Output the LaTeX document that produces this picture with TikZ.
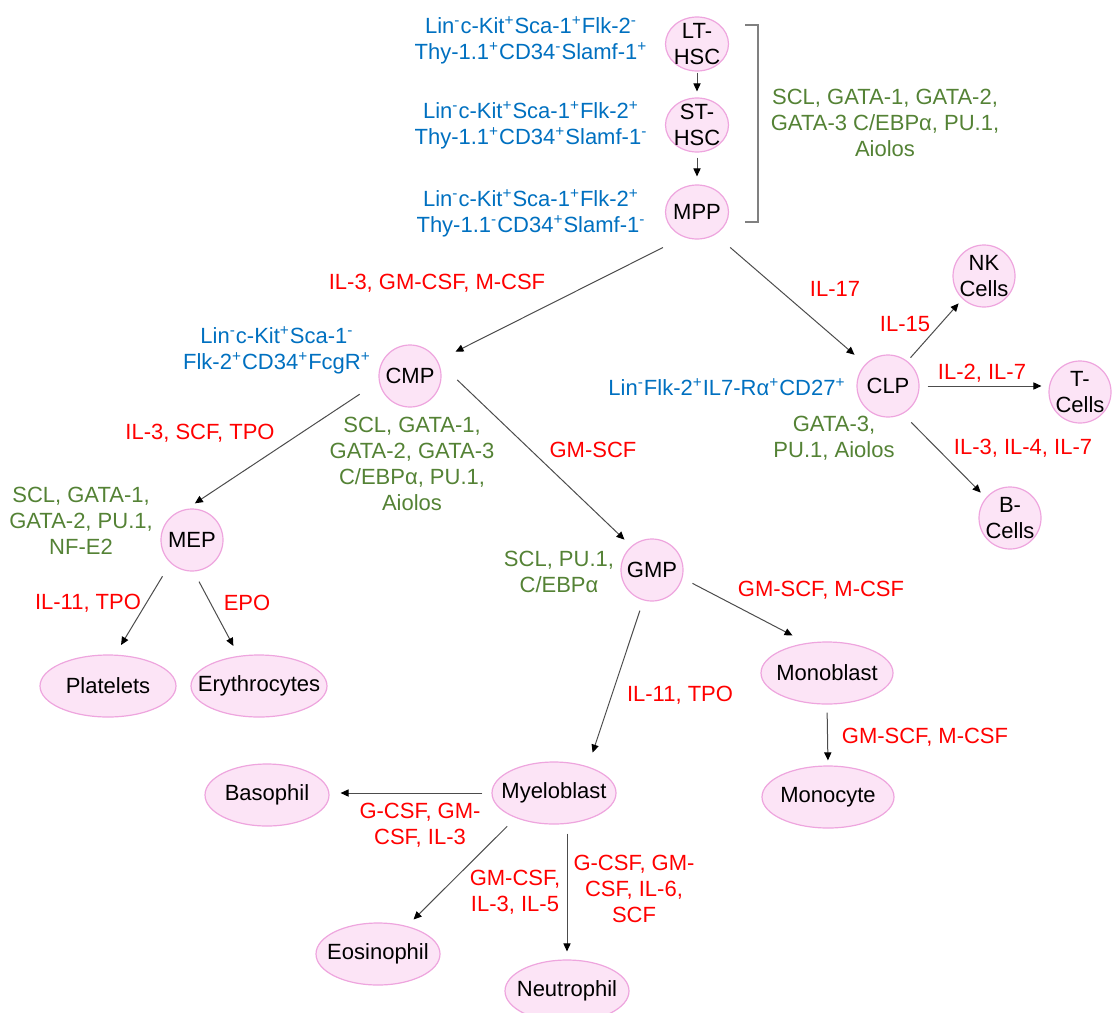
\documentclass[tikz,border=0pt]{standalone}
\usepackage{fontspec}
\setmainfont{Liberation Sans}
\usetikzlibrary{arrows.meta,shapes.geometric}

\definecolor{cellfill}{RGB}{252,228,246}
\definecolor{celledge}{RGB}{238,165,222}
\definecolor{markblue}{RGB}{0,112,192}
\definecolor{tfgreen}{RGB}{84,130,53}
\definecolor{cytored}{RGB}{255,0,0}

% surface marker signs
\newcommand{\mkp}{\textsuperscript{+}}
\newcommand{\mkn}{\textsuperscript{-}}

\begin{document}
\begin{tikzpicture}[
  x=0.5pt, y=-0.5pt,
  font=\fontsize{11}{13}\selectfont,
  >={Triangle[length=4pt,width=3.6pt,color=black]},
  cell/.style={circle, draw=celledge, fill=cellfill, line width=0.6pt,
               minimum size=31pt, inner sep=-2pt, align=center},
  stem/.style={ellipse, draw=celledge, fill=cellfill, line width=0.6pt,
               minimum width=31.5pt, minimum height=27pt, inner sep=-3pt,
               align=center},
  mature/.style={ellipse, draw=celledge, fill=cellfill, line width=0.6pt,
                 minimum width=62pt, minimum height=31pt, inner xsep=-7pt,
                 inner ysep=0pt},
  marker/.style={text=markblue, align=center},
  factor/.style={text=tfgreen, align=center},
  cyto/.style={text=cytored, align=center},
  link/.style={->, draw=black!70, line width=0.5pt},
  bracketline/.style={draw=black!50, line width=0.6pt}
]
\useasboundingbox (0,0) rectangle (1112,1012);

% stem and progenitor cells
\node[stem] (lthsc) at (697,44) {LT-\\HSC};
\node[stem] (sthsc) at (697,125) {ST-\\HSC};
\node[stem] (mpp) at (697,212) {MPP};
\node[cell] (cmp) at (410,376) {CMP};
\node[cell] (clp) at (888,386) {CLP};
\node[cell] (mep) at (192,540) {MEP};
\node[cell] (gmp) at (652,570) {GMP};

% lymphoid side
\node[cell] (nk) at (984,276) {NK\\Cells};
\node[cell] (tcells) at (1080,392) {T-\\Cells};
\node[cell] (bcells) at (1010,518) {B-\\Cells};

% myeloid side
\node[mature, minimum width=68pt] (platelets) at (108,686) {Platelets};
\node[mature, minimum width=68pt] (erythro) at (259,686) {Erythrocytes};
\node[mature, minimum width=66pt] (monoblast) at (827,673) {Monoblast};
\node[mature, minimum width=66pt] (monocyte) at (828,797) {Monocyte};
\node[mature] (myelo) at (554,793) {Myeloblast};
\node[mature] (basophil) at (267,795) {Basophil};
\node[mature] (eosin) at (378,954) {Eosinophil};
\node[mature] (neutro) at (567,991) {Neutrophil};

% lineage arrows
\draw[link, shorten <=0.5pt, shorten >=3pt] (lthsc) -- (sthsc);
\draw[link, shorten <=2.5pt, shorten >=4pt] (sthsc) -- (mpp);
\draw[link, shorten <=11.6pt, shorten >=10pt] (mpp.-118) -- (cmp.29);
\draw[link, shorten <=9.8pt, shorten >=7.1pt] (mpp.-51) -- (clp.136);
\draw[link, shorten <=2.3pt, shorten >=2.9pt] (clp.52) -- (nk.-133);
\draw[link, shorten <=4pt, shorten >=3.5pt] (clp.east) -- (clp.east -| tcells.west);
\draw[link, shorten <=6pt, shorten >=3.6pt] (clp.-62) -- (bcells.140);
\draw[link, shorten <=11.5pt, shorten >=5pt] (cmp.-170) -- (mep.100);
\draw[link, shorten <=13.2pt, shorten >=4.7pt] (cmp.27) -- (gmp.131);
\draw[link, shorten <=7.7pt, shorten >=5.6pt] (mep.-133) -- (platelets.77);
\draw[link, shorten <=5.7pt, shorten >=5.6pt] (mep.-87) -- (erythro.124);
\draw[link, shorten <=5.4pt, shorten >=7.3pt] (gmp.-106) -- (myelo.38);
\draw[link, shorten <=5.6pt, shorten >=8pt] (gmp.-15) -- (monoblast.124);
\draw[link, shorten <=4pt, shorten >=2.5pt] (monoblast.south) -- (monocyte.north);
\draw[link, shorten <=4.5pt, shorten >=5.5pt] (myelo.west) -- (myelo.west -| basophil.east);
\draw[link, shorten <=5.9pt, shorten >=4.6pt] (myelo.-147) -- (eosin.44);
\draw[link, shorten <=4.5pt, shorten >=4pt] (neutro |- myelo.south) -- (neutro.north);

% bracket over the stem compartment
\draw[bracketline] (745,25) -- (758,25) -- (758,222) -- (745,222);

% surface markers
\node[marker] (ltmark) at (531,40)
  {Lin\mkn c-Kit\mkp Sca-1\mkp Flk-2\mkn\\Thy-1.1\mkp CD34\mkn Slamf-1\mkp};
\node[marker] (stmark) at (531,125)
  {Lin\mkn c-Kit\mkp Sca-1\mkp Flk-2\mkp\\Thy-1.1\mkp CD34\mkp Slamf-1\mkn};
\node[marker] (mppmark) at (531,213)
  {Lin\mkn c-Kit\mkp Sca-1\mkp Flk-2\mkp\\Thy-1.1\mkn CD34\mkp Slamf-1\mkn};
\node[marker] (cmpmark) at (277,350)
  {Lin\mkn c-Kit\mkp Sca-1\mkn\\Flk-2\mkp CD34\mkp FcgR\mkp};
\node[marker] (clpmark) at (727,387) {Lin\mkn Flk-2\mkp IL7-Rα\mkp CD27\mkp};

% transcription factors
\node[factor] (stemtf) at (885,123)
  {SCL, GATA-1, GATA-2,\\GATA-3 C/EBPα, PU.1,\\Aiolos};
\node[factor] (cmptf) at (412,464)
  {SCL, GATA-1,\\GATA-2, GATA-3\\C/EBPα, PU.1,\\Aiolos};
\node[factor] (meptf) at (81,521) {SCL, GATA-1,\\GATA-2, PU.1,\\NF-E2};
\node[factor] (gmptf) at (559,572) {SCL, PU.1,\\C/EBPα};
\node[factor] (clptf) at (834,438) {GATA-3,\\PU.1, Aiolos};

% cytokines
\node[cyto] (cmpcyto) at (437,283) {IL-3, GM-CSF, M-CSF};
\node[cyto] (clpcyto) at (835,289) {IL-17};
\node[cyto] (nkcyto) at (905,324) {IL-15};
\node[cyto] (tcyto) at (982,373) {IL-2, IL-7};
\node[cyto] (bcyto) at (1023,448) {IL-3, IL-4, IL-7};
\node[cyto] (mepcyto) at (200,433) {IL-3, SCF, TPO};
\node[cyto] (gmpcyto) at (593,450) {GM-SCF};
\node[cyto] (pltcyto) at (88,603) {IL-11, TPO};
\node[cyto] (erycyto) at (247,603) {EPO};
\node[cyto] (monocyto) at (821,590) {GM-SCF, M-CSF};
\node[cyto] (myelocyto) at (680,695) {IL-11, TPO};
\node[cyto] (mocyto) at (925,737) {GM-SCF, M-CSF};
\node[cyto] (basocyto) at (420,825) {G-CSF, GM-\\CSF, IL-3};
\node[cyto] (eoscyto) at (515,892) {GM-CSF,\\IL-3, IL-5};
\node[cyto] (neucyto) at (634,889) {G-CSF, GM-\\CSF, IL-6,\\SCF};

\end{tikzpicture}
\end{document}
